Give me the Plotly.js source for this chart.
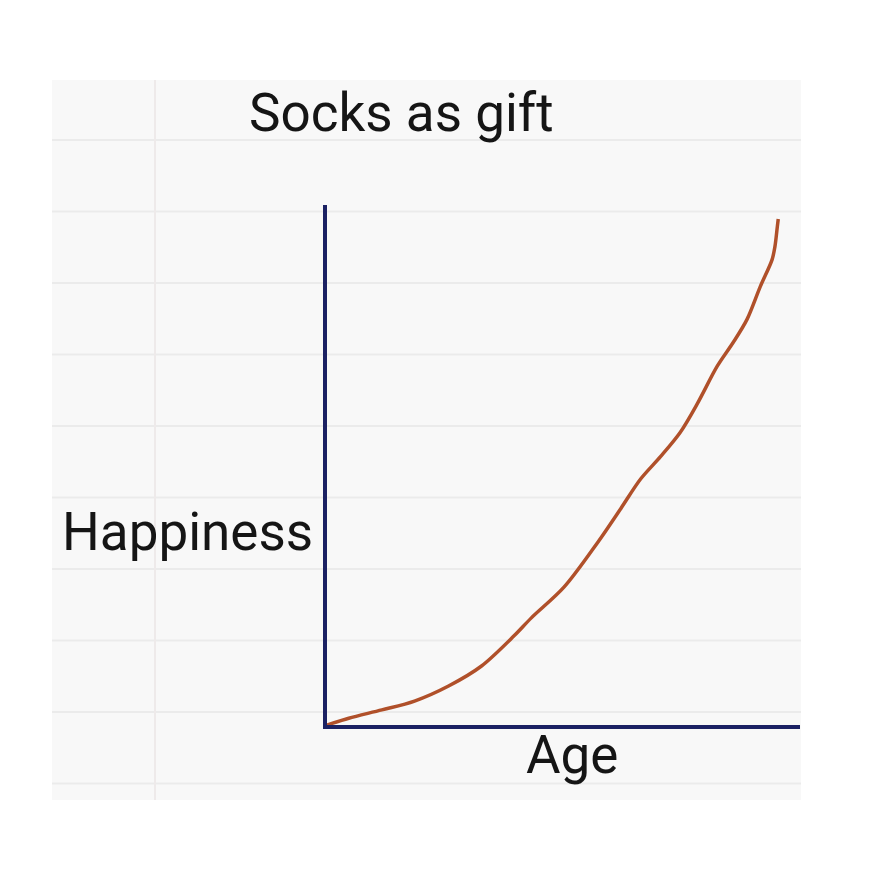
<!DOCTYPE html>
<html>
<head>
<meta charset="utf-8">
<script src="https://cdn.plot.ly/plotly-3.0.1.min.js"></script>
<style>html,body{margin:0;padding:0;background:#fff;}#chart{width:891px;height:891px;}</style>
</head>
<body>
<div id="chart"></div>
<script>
// ---- data ----
const chartTitle = "Socks as gift";
const xLabel = "Age";
const yLabel = "Happiness";
const age = [0, 4.6, 11.6, 18.5, 25.7, 32.6, 39.6, 43.2, 50.1, 57.3, 62.1, 66.3, 70.5, 74.7, 78.3, 82.5, 85.9, 88.8, 91.6, 94.1, 94.7, 95.2, 95.4];
const happiness = [0, 1.3, 2.9, 4.6, 7.5, 11.3, 17.2, 20.6, 26.5, 35.2, 41.6, 47.3, 51.6, 56.3, 61.8, 69.0, 73.6, 78.0, 84.3, 89.5, 92.0, 95.8, 97.3];

// ---- layout geometry ----
const W = 891, H = 891;
const M = {l: 327, r: 91, t: 205, b: 166};
const PW = W - M.l - M.r, PH = H - M.t - M.b;
const px = v => (v - M.l) / PW;      // pixel x -> paper x
const py = v => (H - M.b - v) / PH;  // pixel y -> paper y

const FONT = 'Roboto, "Noto Sans", Arial, sans-serif';
const NAVY = '#1b2163';

// notebook-paper decoration
const shapes = [];
shapes.push({type: 'rect', xref: 'paper', yref: 'paper', layer: 'below',
  x0: px(52), x1: px(801), y0: py(800), y1: py(80),
  fillcolor: '#f8f8f8', line: {width: 0}});
for (let k = 0; k < 10; k++) {
  const yy = 140 + k * 71.5;
  shapes.push({type: 'line', xref: 'paper', yref: 'paper', layer: 'below',
    x0: px(52), x1: px(801), y0: py(yy), y1: py(yy),
    line: {color: '#ebebeb', width: 2}});
}
shapes.push({type: 'line', xref: 'paper', yref: 'paper', layer: 'below',
  x0: px(155), x1: px(155), y0: py(800), y1: py(80),
  line: {color: '#eeeaea', width: 2}});

const trace = {
  x: age, y: happiness, type: 'scatter', mode: 'lines',
  line: {color: '#b0502a', width: 3.5, shape: 'spline', smoothing: 0.9},
  hoverinfo: 'skip', cliponaxis: false
};

const layout = {
  width: W, height: H,
  margin: M,
  paper_bgcolor: '#ffffff',
  plot_bgcolor: 'rgba(0,0,0,0)',
  showlegend: false,
  shapes: shapes,
  xaxis: {range: [0, 100], showline: true, linecolor: NAVY, linewidth: 4,
    showgrid: false, zeroline: false, showticklabels: false, ticks: '', fixedrange: true},
  yaxis: {range: [0, 100], showline: true, linecolor: NAVY, linewidth: 4,
    showgrid: false, zeroline: false, showticklabels: false, ticks: '', fixedrange: true},
  annotations: [
    {text: chartTitle, xref: 'paper', yref: 'paper', x: px(401), y: py(113),
      xanchor: 'center', yanchor: 'middle', showarrow: false,
      font: {family: FONT, size: 53, color: '#151515'}},
    {text: yLabel, xref: 'paper', yref: 'paper', x: px(187), y: py(532),
      xanchor: 'center', yanchor: 'middle', showarrow: false,
      font: {family: FONT, size: 53, color: '#151515'}},
    {text: xLabel, xref: 'paper', yref: 'paper', x: px(572), y: py(755),
      xanchor: 'center', yanchor: 'middle', showarrow: false,
      font: {family: FONT, size: 53, color: '#151515'}}
  ]
};

Plotly.newPlot('chart', [trace], layout, {staticPlot: true, displayModeBar: false});
</script>
</body>
</html>
